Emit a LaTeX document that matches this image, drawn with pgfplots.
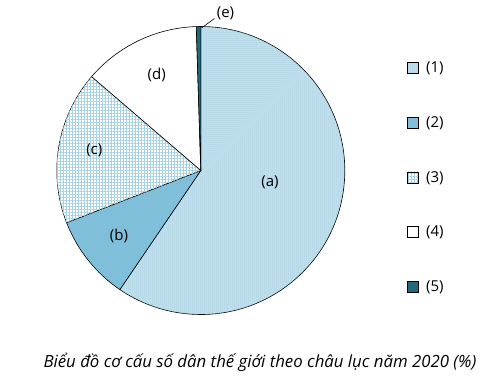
\documentclass[border=0pt]{standalone}
\usepackage{fontspec}
\setmainfont{Open Sans}
\usepackage{pgfplots}
\usepackage{pgfplotstable}
\pgfplotsset{compat=1.18}
\usetikzlibrary{patterns.meta}

\definecolor{pieA}{HTML}{C2E1ED}
\definecolor{pieAdot}{HTML}{97C7DB}
\definecolor{pieB}{HTML}{7FBFDA}
\definecolor{pieCgrid}{HTML}{A6D1E2}
\definecolor{pieE}{HTML}{23687E}

\tikzset{
  s0/.style={fill=pieA, postaction={pattern={Dots[distance=2bp,radius=0.5bp]}, pattern color=pieAdot}},
  s1/.style={fill=pieB},
  s2/.style={fill=white, postaction={pattern={Hatch[distance=3bp,line width=0.45bp]}, pattern color=pieCgrid}},
  s3/.style={fill=white},
  s4/.style={fill=pieE},
}

% share of world population by continent, 2020 (%)
\pgfplotstableread{
part value
a 59.5
b 9.6
c 17.2
d 13.2
e 0.5
}\pietable

\begin{document}
\begin{tikzpicture}
\begin{axis}[
  hide axis, x=1bp, y=1bp, scale only axis,
  xmin=0, xmax=498, ymin=0, ymax=377, clip=false,
  legend image code/.code={\draw[#1, draw=black, line width=0.5bp] (0bp,-5.5bp) rectangle (11bp,5.5bp);},
  legend style={at={(axis cs:406.5,315.5)}, anchor=north west, draw=none, fill=none,
    inner sep=0pt, row sep=42.5bp, column sep=8bp,
    nodes={inner sep=0pt, font=\fontsize{15bp}{17bp}\selectfont, anchor=west}},
  legend cell align=left,
]
\addlegendimage{s0}
\addlegendimage{s1}
\addlegendimage{s2}
\addlegendimage{s3}
\addlegendimage{s4}
\legend{(1),(2),(3),(4),(5)}

% slices run clockwise from the top
\gdef\angS{90}
\foreach \i in {0,...,4} {
  \pgfplotstablegetelem{\i}{value}\of\pietable
  \pgfmathsetmacro\angE{\angS - 3.6*\pgfplotsretval}
  \edef\doslice{\noexpand\fill[s\i, draw=black, line width=0.6bp]
    (axis cs:200.8,206.5) -- ++(\angS:144bp)
    arc[start angle=\angS, end angle=\angE, radius=144bp] -- cycle;}
  \doslice
  \global\let\angS\angE
}

\begin{scope}[font=\fontsize{15bp}{17bp}\selectfont]
\node at (axis cs:270,194.3) {(a)};
\node at (axis cs:119,141) {(b)};
\node at (axis cs:94.3,227) {(c)};
\node at (axis cs:156.7,302) {(d)};
\node at (axis cs:225.5,363.7) {(e)};
\end{scope}
\draw[line width=0.6bp] (axis cs:201.5,349) -- (axis cs:214.5,358.5);

\node[anchor=base, font=\fontsize{16.8bp}{19bp}\selectfont\itshape] at (axis cs:260,9.3)
  {Biểu đồ cơ cấu số dân thế giới theo châu lục năm 2020 (\%)};
\end{axis}
\pgfresetboundingbox
\path (0,0) rectangle (498bp,377bp);
\end{tikzpicture}
\end{document}
